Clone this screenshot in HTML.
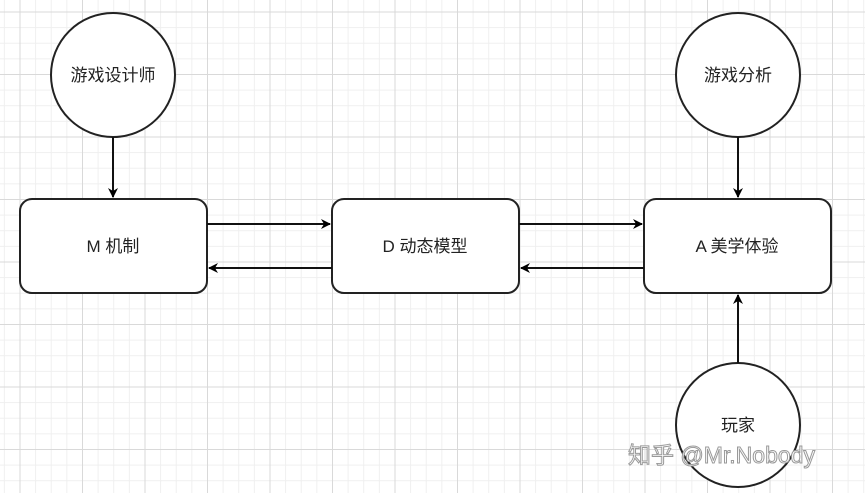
<!DOCTYPE html>
<html><head><meta charset="utf-8"><style>
body{margin:0;width:865px;height:493px;overflow:hidden;background:#fff;
background-image:linear-gradient(#d9d9d9 1px,transparent 1px),linear-gradient(90deg,#d9d9d9 1px,transparent 1px),linear-gradient(#efefef 1px,transparent 1px),linear-gradient(90deg,#efefef 1px,transparent 1px);
background-size:62.5px 62.5px,62.5px 62.5px,15.625px 15.625px,15.625px 15.625px;background-position:19.5px 11.5px,19.5px 11.5px,19.5px 11.5px,19.5px 11.5px;}
</style></head><body>
<svg width="865" height="493" style="position:absolute;left:0;top:0" font-family="Liberation Sans, Noto Sans CJK SC, sans-serif">
<defs><marker id="a" markerWidth="10" markerHeight="10" refX="9" refY="5" orient="auto" markerUnits="userSpaceOnUse"><path d="M0,0 L10,5 L0,10 L3,5 z" fill="#000"/></marker></defs>
<g fill="#fff" stroke="#222" stroke-width="2">
<circle cx="113" cy="75" r="62"/>
<circle cx="738" cy="75" r="62"/>
<circle cx="738" cy="425" r="62"/>
<rect x="20" y="199" width="187" height="94" rx="12"/>
<rect x="332" y="199" width="187" height="94" rx="12"/>
<rect x="644" y="199" width="187" height="94" rx="12"/>
</g>
<g stroke="#111" stroke-width="2" fill="none">
<line x1="113" y1="137" x2="113" y2="197" marker-end="url(#a)"/>
<line x1="738" y1="137" x2="738" y2="197" marker-end="url(#a)"/>
<line x1="738" y1="363" x2="738" y2="295" marker-end="url(#a)"/>
<line x1="207" y1="224" x2="330" y2="224" marker-end="url(#a)"/>
<line x1="332" y1="268" x2="209" y2="268" marker-end="url(#a)"/>
<line x1="519" y1="224" x2="642" y2="224" marker-end="url(#a)"/>
<line x1="644" y1="268" x2="521" y2="268" marker-end="url(#a)"/>
</g>
<g font-size="17" fill="#222" text-anchor="middle">
<text x="113" y="81">游戏设计师</text>
<text x="738" y="81">游戏分析</text>
<text x="738" y="431">玩家</text>
<text x="113" y="252">M 机制</text>
<text x="425" y="252">D 动态模型</text>
<text x="737" y="252">A 美学体验</text>
</g>
<text x="628" y="463" font-size="23" fill="#fff" stroke="#999" stroke-width="1">知乎 @Mr.Nobody</text>
</svg>
</body></html>
